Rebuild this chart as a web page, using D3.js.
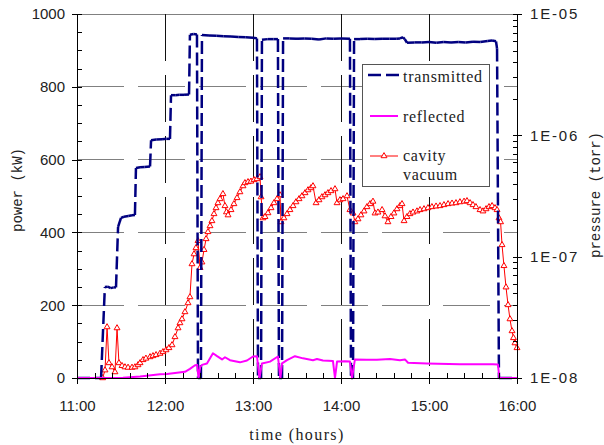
<!DOCTYPE html>
<html>
<head>
<meta charset="utf-8">
<script src="https://cdn.jsdelivr.net/npm/d3@7/dist/d3.min.js"></script>
<style>
  body { margin: 0; background: #fff; }
  svg { display: block; }
  .sans { font-family: 'Liberation Sans', Arial, sans-serif; }
  .serif { font-family: 'Liberation Serif', 'Times New Roman', serif; }
  .mono { font-family: 'Liberation Mono', 'Courier New', monospace; }
</style>
</head>
<body>
<svg id="chart" width="604" height="445"></svg>
<script>
// time axis is in minutes after 11:00
var timeTicks = [0, 60, 120, 180, 240, 300];
var timeLabels = ['11:00', '12:00', '13:00', '14:00', '15:00', '16:00'];
var powerTicks = [0, 200, 400, 600, 800, 1000];
var pressureTicks = [1e-8, 1e-7, 1e-6, 1e-5];
var pressureLabels = ['1E-08', '1E-07', '1E-06', '1E-05'];

// transmitted power (kW)
var transTime = [
  0, 16.4, 19.0, 21.0, 23.0, 25.0, 26.6, 28.0, 30.0, 32.0,
  35.0, 37.5, 39.5, 40.2, 43.0, 46.0, 49.8, 50.5, 54.0, 58.0,
  61.0, 63.4, 64.1, 67.0, 70.0, 73.0, 76.4, 77.0, 79.5, 81.8,
  82.5, 84.5, 85.2, 90, 95, 100, 105, 110, 115, 120,
  122.7, 123.4, 125.5, 126.1, 130, 134, 137, 137.7, 139.8, 140.5,
  145, 150, 155, 160, 165, 170, 175, 180, 186.1, 186.8,
  188.2, 188.9, 193, 198, 203, 208, 213, 218, 220.2, 222.3,
  223.5, 225, 230, 235, 240, 245, 250, 255, 260, 265,
  270, 275, 280, 283, 285.7, 286.4, 287.7, 300
];
var transPower = [
  0, 0, 250, 251, 247, 249, 249, 415, 440, 443,
  445, 447, 448, 577, 579, 580, 581, 653, 655, 656,
  657, 657, 777, 777, 778, 778, 779, 943, 945, 944,
  0, 0, 942, 941, 940, 939, 938, 937, 936, 935,
  933, 0, 0, 929, 931, 931, 931, 0, 0, 933,
  933, 932, 933, 932, 930, 933, 932, 933, 932, 0,
  0, 931, 931, 932, 931, 932, 932, 932, 933, 936,
  931, 921, 922, 922, 923, 921, 923, 922, 923, 922,
  924, 923, 926, 927, 925, 905, 0, 0
];

// reflected power (kW)
var reflTime = [
  0, 15.7, 31.4, 43, 56.6, 61.4, 73.6, 77, 80.5, 82.0,
  82.8, 84.0, 85.2, 88.6, 92.7, 95.5, 98.9, 100.9, 104.3, 111.1,
  115.9, 120, 122.7, 124.4, 126.1, 131.6, 137, 138.7, 139.8, 143.2,
  148.6, 154.1, 160.9, 163.6, 167.7, 174.5, 175.9, 177.3, 182.7, 186.1,
  187.5, 189.5, 197.7, 204.5, 213.4, 220.2, 223.6, 225.7, 238.6, 261.1,
  283.6, 287, 288, 300
];
var reflPower = [
  0, 0, 1, 4, 10, 11, 17, 25, 35, 36,
  0, 30, 36, 40, 68, 60, 51, 57, 49, 43,
  48, 59, 60, 0, 40, 45, 59, 0, 40, 49,
  60, 54, 49, 52, 48, 47, 0, 45, 46, 45,
  0, 51, 50, 50, 52, 49, 51, 42, 40, 38,
  37.5, 37, 0, 0
];

// cavity vacuum (torr)
var vacTime = [
  17.5, 19.1, 20.5, 21.8, 23.9, 25.9, 27.3, 28.6, 30.7, 32.7,
  34.8, 37.5, 39.5, 41.6, 43.0, 45.0, 47.0, 49.8, 51.8, 53.9,
  56.6, 58.6, 60.7, 62.7, 64.8, 66.8, 68.9, 70.2, 71.6, 73.6,
  75.7, 77.0, 78.4, 79.8, 81.1, 82.5, 83.9, 85.2, 86.6, 88.0,
  89.3, 90.7, 92.0, 93.4, 94.8, 96.1, 97.5, 99.5, 100.9, 101.9,
  103.0, 105.0, 107.0, 109.1, 111.1, 113.2, 114.5, 116.6, 118.6, 120.7,
  122.7, 124.8, 125.5, 126.8, 128.2, 130.2, 132.3, 134.3, 136.4, 138.4,
  139.1, 141.1, 143.2, 145.2, 147.3, 149.3, 151.4, 153.4, 155.5, 157.5,
  159.5, 160.9, 163.0, 165.0, 167.0, 169.1, 171.1, 173.2, 175.9, 177.3,
  179.3, 181.4, 184.1, 186.1, 188.2, 189.5, 191.6, 193.6, 195.7, 197.7,
  199.8, 201.8, 203.2, 205.2, 208.0, 210.0, 212.0, 214.1, 216.1, 218.2,
  220.2, 221.6, 223.0, 225.0, 227.0, 229.1, 231.8, 233.9, 236.6, 239.3,
  242.0, 244.8, 247.5, 250.2, 253.0, 255.7, 258.4, 261.1, 263.9, 265.9,
  268.0, 270.0, 272.0, 274.8, 276.8, 278.9, 280.9, 283.0, 285.0, 286.4,
  287.7, 288.8, 289.8, 291.1, 292.5, 293.9, 295.2, 296.6, 297.6, 298.6,
  300.0
];
var vacPressure = [
  1.0e-8, 1.16e-8, 2.63e-8, 1.33e-8, 1.23e-8, 1.12e-8, 2.58e-8, 1.33e-8, 1.26e-8, 1.23e-8,
  1.22e-8, 1.22e-8, 1.23e-8, 1.28e-8, 1.33e-8, 1.41e-8, 1.45e-8, 1.49e-8, 1.52e-8, 1.55e-8,
  1.59e-8, 1.64e-8, 1.70e-8, 1.77e-8, 1.87e-8, 2.18e-8, 2.58e-8, 2.84e-8, 3.06e-8, 3.50e-8,
  4.15e-8, 4.65e-8, 8.7e-8, 1.05e-7, 1.18e-7, 1.35e-7, 8.1e-8, 9.0e-8, 1.14e-7, 1.40e-7,
  1.60e-7, 1.79e-7, 1.97e-7, 2.25e-7, 2.52e-7, 2.77e-7, 2.99e-7, 3.29e-7, 2.62e-7, 2.33e-7,
  2.20e-7, 2.43e-7, 2.72e-7, 3.05e-7, 3.41e-7, 3.82e-7, 4.05e-7, 4.13e-7, 4.17e-7, 4.29e-7,
  4.37e-7, 4.54e-7, 3.10e-7, 2.08e-7, 2.13e-7, 2.29e-7, 2.52e-7, 2.77e-7, 2.99e-7, 3.22e-7,
  1.93e-7, 2.08e-7, 2.25e-7, 2.43e-7, 2.62e-7, 2.82e-7, 2.99e-7, 3.16e-7, 3.35e-7, 3.54e-7,
  3.68e-7, 3.82e-7, 2.77e-7, 2.93e-7, 3.10e-7, 3.22e-7, 3.35e-7, 3.48e-7, 3.61e-7, 2.77e-7,
  2.93e-7, 2.99e-7, 3.16e-7, 2.43e-7, 2.28e-7, 1.93e-7, 2.04e-7, 2.20e-7, 2.37e-7, 2.57e-7,
  2.72e-7, 2.85e-7, 2.28e-7, 2.32e-7, 2.43e-7, 2.16e-7, 1.93e-7, 2.13e-7, 2.28e-7, 2.47e-7,
  2.62e-7, 2.72e-7, 1.97e-7, 2.13e-7, 2.25e-7, 2.32e-7, 2.37e-7, 2.43e-7, 2.47e-7, 2.52e-7,
  2.57e-7, 2.60e-7, 2.62e-7, 2.67e-7, 2.72e-7, 2.75e-7, 2.77e-7, 2.82e-7, 2.85e-7, 2.88e-7,
  2.77e-7, 2.67e-7, 2.57e-7, 2.43e-7, 2.37e-7, 2.47e-7, 2.57e-7, 2.62e-7, 2.52e-7, 2.43e-7,
  2.08e-7, 1.93e-7, 1.25e-7, 8.4e-8, 5.6e-8, 4.0e-8, 3.06e-8, 2.44e-8, 2.14e-8, 1.94e-8,
  1.77e-8
];

var svg = d3.select('#chart');
var plot = { left: 77, right: 517, top: 14, bottom: 378 };

var x = d3.scaleLinear().domain([0, 300]).range([plot.left, plot.right]);
var yPower = d3.scaleLinear().domain([0, 1000]).range([plot.bottom, plot.top]);
var yPress = d3.scaleLog().domain([1e-8, 1e-5]).range([plot.bottom, plot.top]);

// grid: gray dashed horizontals, dark dashed verticals
svg.append('g')
  .selectAll('line')
  .data(powerTicks.slice(1, -1))
  .enter().append('line')
    .attr('x1', plot.left).attr('x2', plot.right)
    .attr('y1', function(d) { return yPower(d); })
    .attr('y2', function(d) { return yPower(d); })
    .attr('stroke', '#808080')
    .attr('stroke-dasharray', '47,14')
    .attr('shape-rendering', 'crispEdges');

svg.append('line')
  .attr('x1', plot.left).attr('x2', plot.right)
  .attr('y1', yPower(1000)).attr('y2', yPower(1000))
  .attr('stroke', '#808080')
  .attr('shape-rendering', 'crispEdges');

svg.append('g')
  .selectAll('line')
  .data(timeTicks.slice(1, -1))
  .enter().append('line')
    .attr('x1', function(d) { return x(d); })
    .attr('x2', function(d) { return x(d); })
    .attr('y1', plot.top).attr('y2', plot.bottom)
    .attr('stroke', '#111')
    .attr('stroke-dasharray', '47,14')
    .attr('shape-rendering', 'crispEdges');

// cavity vacuum (secondary axis), drawn under the power traces
var vacPts = vacTime.map(function(t, i) { return [x(t), yPress(vacPressure[i])]; });

svg.append('path')
  .datum(vacPts)
  .attr('fill', 'none')
  .attr('stroke', '#ff0000')
  .attr('stroke-width', 1)
  .attr('d', d3.line());

svg.append('g')
  .selectAll('path')
  .data(vacPts)
  .enter().append('path')
    .attr('transform', function(d) { return 'translate(' + d[0] + ',' + d[1] + ')'; })
    .attr('d', d3.symbol(d3.symbolTriangle).size(15))
    .attr('fill', '#fff')
    .attr('stroke', '#ff0000')
    .attr('stroke-width', 1);

// transmitted: dash pattern restarts on every segment, so short runs look solid
var transPts = transTime.map(function(t, i) { return [x(t), yPower(transPower[i])]; });

svg.append('g')
  .selectAll('line')
  .data(d3.pairs(transPts))
  .enter().append('line')
    .attr('x1', function(d) { return d[0][0]; })
    .attr('y1', function(d) { return d[0][1]; })
    .attr('x2', function(d) { return d[1][0]; })
    .attr('y2', function(d) { return d[1][1]; })
    .attr('stroke', '#000080')
    .attr('stroke-width', 2.5)
    .attr('stroke-dasharray', '13,5');

// reflected
var reflPts = reflTime.map(function(t, i) { return [x(t), yPower(reflPower[i])]; });

svg.append('path')
  .datum(reflPts)
  .attr('fill', 'none')
  .attr('stroke', '#ff00ff')
  .attr('stroke-width', 2)
  .attr('stroke-linejoin', 'round')
  .attr('d', d3.line());

// axes
function styleAxis(g) {
  g.attr('font-family', null).attr('font-size', null);
  g.selectAll('path.domain').attr('stroke', '#000').attr('shape-rendering', 'crispEdges');
  g.selectAll('.tick line').attr('stroke', '#000').attr('shape-rendering', 'crispEdges');
  g.selectAll('.tick text')
    .attr('class', 'sans')
    .style('font-size', '15px')
    .attr('fill', '#222');
}

// left power axis: minor ticks inside, major ticks crossing
svg.append('g')
  .attr('transform', 'translate(' + plot.left + ',0)')
  .call(d3.axisLeft(yPower).tickValues(d3.range(0, 1001, 50)).tickSize(-4.5).tickSizeOuter(0).tickFormat(''))
  .call(styleAxis);

svg.append('g')
  .attr('transform', 'translate(' + plot.left + ',0)')
  .call(d3.axisLeft(yPower).tickValues(powerTicks).tickSize(5).tickSizeOuter(0).tickPadding(7)
    .tickFormat(d3.format('d')))
  .call(styleAxis);

// bottom time axis
svg.append('g')
  .attr('transform', 'translate(0,' + plot.bottom + ')')
  .call(d3.axisBottom(x).tickValues(d3.range(0, 301, 12)).tickSize(-5).tickSizeOuter(0).tickFormat(''))
  .call(styleAxis);

svg.append('g')
  .attr('transform', 'translate(0,' + plot.bottom + ')')
  .call(d3.axisBottom(x).tickValues(timeTicks).tickSize(6).tickSizeOuter(0).tickPadding(16)
    .tickFormat(function(d, i) { return timeLabels[i]; }))
  .call(styleAxis)
  .call(function(g) {
    g.selectAll('.tick').append('line').attr('y2', -6).attr('stroke', '#000');
  });

// right pressure axis (log)
var minorPress = [];
[1e-8, 1e-7, 1e-6].forEach(function(dec) {
  for (var k = 2; k <= 9; k++) minorPress.push(dec * k);
});

svg.append('g')
  .attr('transform', 'translate(' + plot.right + ',0)')
  .call(d3.axisRight(yPress).tickValues(minorPress.concat(pressureTicks)).tickSize(-4.5).tickSizeOuter(0).tickFormat(''))
  .call(styleAxis);

svg.append('g')
  .attr('transform', 'translate(' + plot.right + ',0)')
  .call(d3.axisRight(yPress).tickValues(pressureTicks).tickSize(5).tickSizeOuter(0).tickPadding(8)
    .tickFormat(function(d, i) { return pressureLabels[i]; }))
  .call(styleAxis)
  .call(function(g) { g.selectAll('.tick text').attr('letter-spacing', 1.8); });

// axis titles
svg.append('text')
  .attr('class', 'mono')
  .attr('transform', 'translate(18,190) rotate(-90)')
  .attr('text-anchor', 'middle')
  .attr('dominant-baseline', 'central')
  .style('font-size', '14px')
  .attr('fill', '#222')
  .text('power (kW)');

svg.append('text')
  .attr('class', 'mono')
  .attr('transform', 'translate(596,195) rotate(-90)')
  .attr('text-anchor', 'middle')
  .attr('dominant-baseline', 'central')
  .style('font-size', '14px')
  .attr('fill', '#222')
  .text('pressure (torr)');

svg.append('text')
  .attr('class', 'serif')
  .attr('x', (plot.left + plot.right) / 2)
  .attr('y', 440)
  .attr('text-anchor', 'middle')
  .style('font-size', '16px')
  .attr('letter-spacing', 1.4)
  .attr('fill', '#222')
  .text('time (hours)');

// legend
var legend = svg.append('g').attr('transform', 'translate(362,64)');

legend.append('rect')
  .attr('width', 127).attr('height', 122)
  .attr('fill', '#fff')
  .attr('stroke', '#555')
  .attr('shape-rendering', 'crispEdges');

legend.append('line')
  .attr('x1', 6).attr('x2', 37).attr('y1', 11).attr('y2', 11)
  .attr('stroke', '#000080').attr('stroke-width', 2.5).attr('stroke-dasharray', '13,5');
legend.append('line')
  .attr('x1', 8).attr('x2', 36).attr('y1', 52).attr('y2', 52)
  .attr('stroke', '#ff00ff').attr('stroke-width', 2);
legend.append('line')
  .attr('x1', 8).attr('x2', 36).attr('y1', 92).attr('y2', 92)
  .attr('stroke', '#ff0000').attr('stroke-width', 1);
legend.append('path')
  .attr('transform', 'translate(22,92)')
  .attr('d', d3.symbol(d3.symbolTriangle).size(15))
  .attr('fill', '#fff').attr('stroke', '#ff0000');

[['transmitted', 18], ['reflected', 58], ['cavity', 97], ['vacuum', 116]].forEach(function(l) {
  legend.append('text')
    .attr('class', 'serif')
    .attr('x', 41).attr('y', l[1])
    .style('font-size', '16px')
    .attr('letter-spacing', 0.7)
    .attr('fill', '#222')
    .text(l[0]);
});
</script>
</body>
</html>
